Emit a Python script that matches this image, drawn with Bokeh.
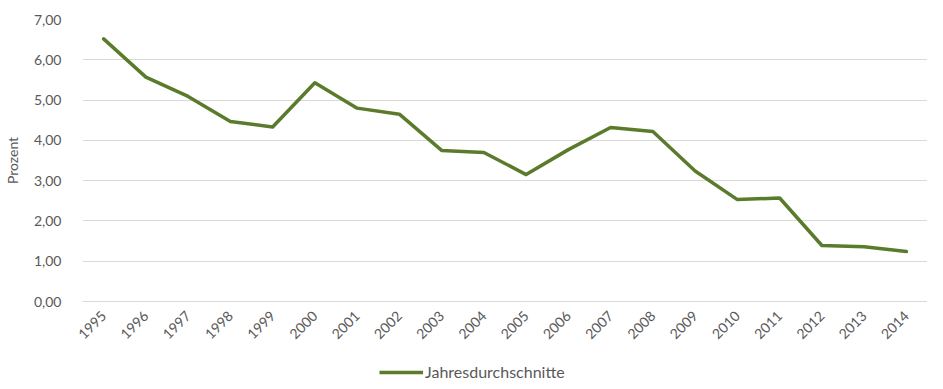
from bokeh.plotting import figure
from bokeh.models import ColumnDataSource, Legend, LegendItem, CustomJSTickFormatter, FixedTicker, Range1d, FactorRange
from bokeh.layouts import column
from bokeh.embed import file_html
from bokeh.resources import INLINE
import math

years = ["1995", "1996", "1997", "1998", "1999", "2000", "2001", "2002", "2003", "2004",
         "2005", "2006", "2007", "2008", "2009", "2010", "2011", "2012", "2013", "2014"]
values = [6.52, 5.57, 5.09, 4.47, 4.33, 5.43, 4.80, 4.65, 3.75, 3.70,
          3.15, 3.77, 4.32, 4.22, 3.24, 2.53, 2.57, 1.39, 1.36, 1.24]
y_ticks = [0, 1, 2, 3, 4, 5, 6, 7]
series_name = "Jahresdurchschnitte"
y_title = "Prozent"

FONT = "Lato"
TXT = "#595959"
GRID = "#d9d9d9"
LINE = "#5b7b2c"

src = ColumnDataSource(dict(x=years, y=values))

p = figure(x_range=years, y_range=Range1d(0, 7), width=927, height=348,
           output_backend="svg", toolbar_location=None,
           min_border_left=72, min_border_right=0, min_border_top=19, min_border_bottom=47)
p.outline_line_color = None
p.background_fill_color = "white"
p.border_fill_color = "white"

r = p.line("x", "y", source=src, line_color=LINE, line_width=3.5, line_join="round", line_cap="round")

p.yaxis.ticker = FixedTicker(ticks=y_ticks)
p.yaxis.formatter = CustomJSTickFormatter(code="return tick.toFixed(2).replace('.', ',');")
p.yaxis.axis_line_color = None
p.yaxis.major_tick_line_color = None
p.yaxis.minor_tick_line_color = None
p.yaxis.major_label_text_font = FONT
p.yaxis.major_label_text_font_size = "14px"
p.yaxis.major_label_text_color = TXT
p.yaxis.major_label_standoff = 15
p.yaxis.axis_label = y_title
p.yaxis.axis_label_text_font = FONT
p.yaxis.axis_label_text_font_size = "14px"
p.yaxis.axis_label_text_font_style = "normal"
p.yaxis.axis_label_text_color = TXT
p.yaxis.axis_label_standoff = 10

p.xaxis.axis_line_color = GRID
p.xaxis.major_tick_line_color = None
p.xaxis.minor_tick_line_color = None
p.xaxis.major_label_orientation = math.pi / 4
p.xaxis.major_label_text_font = FONT
p.xaxis.major_label_text_font_size = "14px"
p.xaxis.major_label_text_color = TXT
p.xaxis.major_label_standoff = 6

p.xgrid.grid_line_color = None
p.ygrid.grid_line_color = GRID
p.ygrid.grid_line_width = 1.2

# legend strip below the chart (its series lies outside the strip's visible range,
# only the legend entry is shown)
lg = figure(width=927, height=33, x_range=FactorRange(*years), y_range=Range1d(-2, -1),
            output_backend="svg", toolbar_location=None,
            min_border_left=0, min_border_right=0, min_border_top=0, min_border_bottom=0)
lg.outline_line_color = None
lg.axis.visible = False
lg.grid.visible = False
lr = lg.line("x", "y", source=src, line_color=LINE, line_width=3.5)
legend = Legend(items=[LegendItem(label=series_name, renderers=[lr])],
                location=(297, 0), orientation="horizontal",
                label_text_font=FONT, label_text_font_size="16px", label_text_color=TXT,
                glyph_width=44, glyph_height=12, border_line_color=None,
                background_fill_alpha=0, label_standoff=2, padding=2, margin=0)
lg.add_layout(legend, "center")

layout = column(p, lg, spacing=0)
open("out.html", "w").write(file_html(layout, INLINE))
